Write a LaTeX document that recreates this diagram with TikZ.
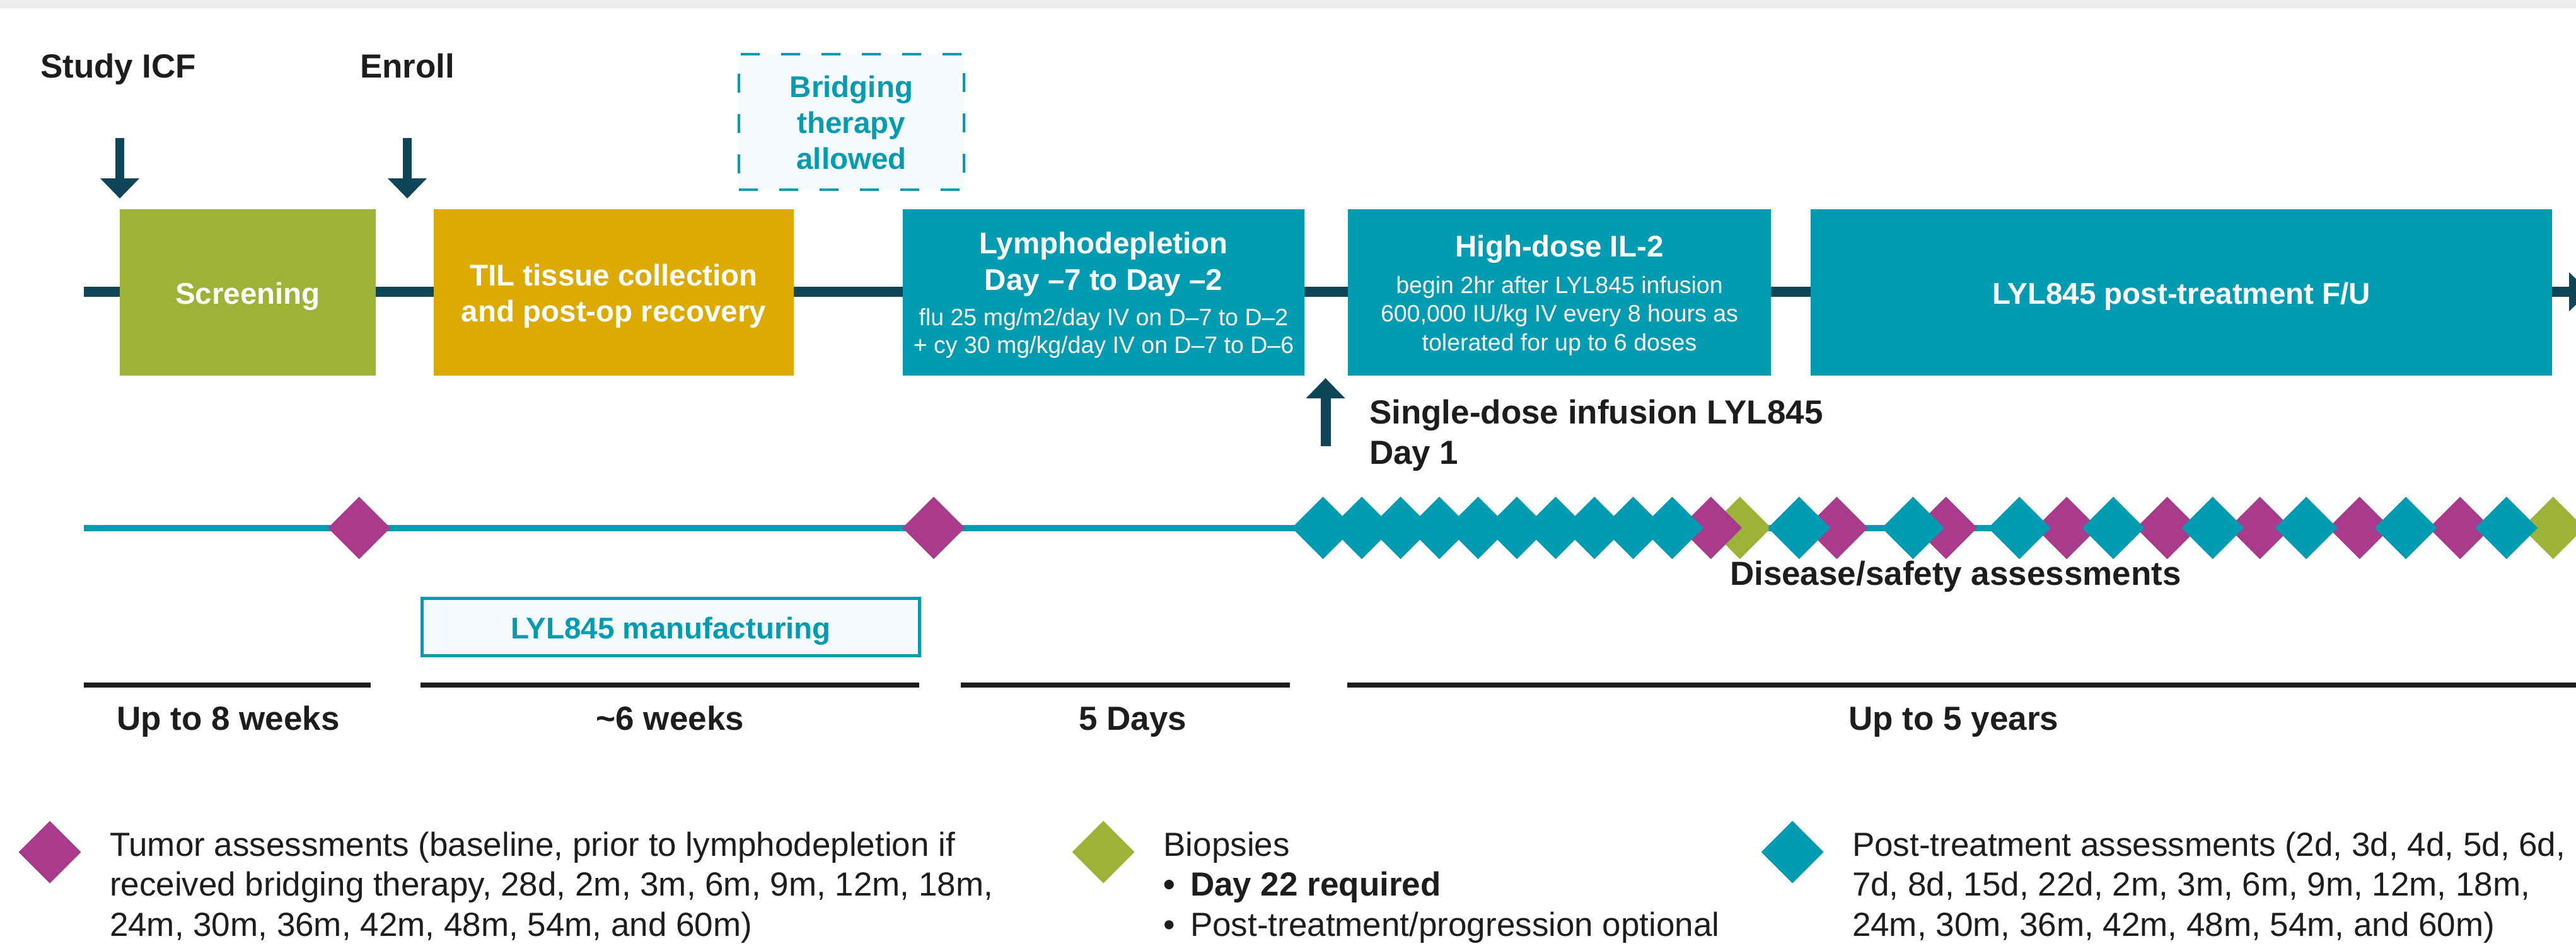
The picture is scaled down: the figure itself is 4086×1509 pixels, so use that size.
\documentclass[tikz,border=0pt]{standalone}
\usepackage{fontspec}
\setmainfont{Liberation Sans}
\usetikzlibrary{arrows.meta,shapes.geometric}
\definecolor{navy}{HTML}{0E4559}
\definecolor{tealc}{HTML}{019CB2}
\definecolor{magc}{HTML}{A93A8C}
\definecolor{grnc}{HTML}{9CB337}
\definecolor{goldc}{HTML}{DCAA00}
\definecolor{txt}{HTML}{1D1D1B}
\definecolor{pale}{HTML}{F5FAFC}
\definecolor{band}{HTML}{ECECEC}
\tikzset{
  lbl/.style={inner sep=0pt, outer sep=0pt, text=txt, font=\fontsize{53}{63.6}\selectfont\bfseries},
  leg/.style={inner sep=0pt, outer sep=0pt, text=txt, font=\fontsize{53}{63.6}\selectfont, anchor=base west},
  legb/.style={leg, font=\fontsize{53}{63.6}\selectfont\bfseries},
  ttl/.style={inner sep=0pt, outer sep=0pt, text=white, font=\fontsize{47.5}{57}\selectfont\bfseries, anchor=base},
  sml/.style={inner sep=0pt, outer sep=0pt, text=white, font=\fontsize{37.5}{45}\selectfont, anchor=base},
  tealtxt/.style={ttl, text=tealc},
  phase/.style={rectangle, inner sep=0pt, outer sep=0pt, draw=none, minimum height=263.4pt},
  dia/.style={diamond, inner sep=0pt, outer sep=0pt, minimum width=99pt, minimum height=99pt, draw=none},
  mdia/.style={dia, fill=magc},
  tdia/.style={dia, fill=tealc},
  gdia/.style={dia, fill=grnc},
  darrow/.style={draw=navy, line width=15pt, -{Triangle[length=32pt,width=60pt]}},
  durseg/.style={draw=txt, line width=8pt},
}
\begin{document}
\begin{tikzpicture}[x=1pt,y=-1pt]
\useasboundingbox (0,0) rectangle (4086,1509);
\clip (0,0) rectangle (4086,1509);
\fill[band] (0,0) rectangle (4086,13);

% main dark timeline
\coordinate (dl0) at (133,463);
\coordinate (dl1) at (4107,463);
\draw[navy, line width=15.5pt, -{Triangle[length=32pt,width=60pt]}] (dl0) -- (dl1);

% phase boxes
\node[phase, fill=grnc, minimum width=406pt] (scr) at (393,464) {};
\node[phase, fill=goldc, minimum width=571pt] (til) at (973.5,464) {};
\node[phase, fill=tealc, minimum width=637pt] (lym) at (1750.5,464) {};
\node[phase, fill=tealc, minimum width=671pt] (hd) at (2473.5,464) {};
\node[phase, fill=tealc, minimum width=1176pt] (pt) at (3460,464) {};

\node[ttl] (scrt) at (393,482) {Screening};
\node[ttl] (tilt1) at (973.5,453) {TIL tissue collection};
\node[ttl] (tilt2) at (973.5,510) {and post-op recovery};
\node[ttl] (lymt1) at (1750.5,402) {Lymphodepletion};
\node[ttl] (lymt2) at (1750.5,460) {Day –7 to Day –2};
\node[sml] (lyms1) at (1750.5,516) {flu 25 mg/m2/day IV on D–7 to D–2};
\node[sml] (lyms2) at (1750.5,560) {+ cy 30 mg/kg/day IV on D–7 to D–6};
\node[ttl] (hdt) at (2473.5,407) {High-dose IL-2};
\node[sml] (hds1) at (2473.5,465) {begin 2hr after LYL845 infusion};
\node[sml] (hds2) at (2473.5,510) {600,000 IU/kg IV every 8 hours as};
\node[sml] (hds3) at (2473.5,556) {tolerated for up to 6 doses};
\node[ttl] (ptt) at (3460,482) {LYL845 post-treatment F/U};

% bridging therapy box
\node[rectangle, draw=tealc, fill=pale, line width=4pt, dash pattern=on 30pt off 34pt, minimum width=357pt, minimum height=215pt, inner sep=0pt] (br) at (1350.5,193.5) {};
\node[tealtxt] (brt1) at (1350.5,154) {Bridging};
\node[tealtxt] (brt2) at (1350.5,211) {therapy};
\node[tealtxt] (brt3) at (1350.5,268) {allowed};

% top labels and arrows
\node[lbl, anchor=base west] (icf) at (64,124) {Study ICF};
\node[lbl, anchor=base west] (enr) at (571,124) {Enroll};
\coordinate (a1s) at (190,219);
\coordinate (a1e) at (190,315);
\coordinate (a2s) at (646,219);
\coordinate (a2e) at (646,315);
\draw[darrow, line width=14.5pt] (a1s) -- (a1e);
\draw[darrow, line width=14.5pt] (a2s) -- (a2e);

% infusion arrow
\coordinate (ups) at (2102.5,708);
\coordinate (upe) at (2102.5,600);
\draw[darrow, line width=16pt] (ups) -- (upe);
\node[lbl, anchor=base west] (inf1) at (2172,672.7) {Single-dose infusion LYL845};
\node[lbl, anchor=base west] (inf2) at (2172,736.7) {Day 1};

% assessment line
\coordinate (tl0) at (133,837.7);
\coordinate (tl1) at (4090,837.7);
\draw[tealc, line width=10pt] (tl0) -- (tl1);

% biopsy diamonds (bottom layer)
\node[gdia] (g1) at (2759.7,837.7) {};
\node[gdia] (g2) at (4049.7,837.7) {};
% tumor diamonds
\foreach \x [count=\i] in {569.6,1481,2713.7,2913.3,3086.7,3278,3437.5,3584.6,3742.7,3902}
  \node[mdia] (m\i) at (\x,837.7) {};
% post-treatment diamonds (top layer)
\foreach \x [count=\i] in {2098.5,2160,2221.5,2283,2344.5,2406,2467.5,2529,2590.5,2652.3,2853.7,3034.3,3203,3352,3509.7,3658,3816,3975.7}
  \node[tdia] (t\i) at (\x,837.7) {};

% manufacturing box
\node[rectangle, draw=tealc, fill=pale, line width=5pt, minimum width=789pt, minimum height=91pt, inner sep=0pt] (mf) at (1064,995.3) {};
\node[tealtxt] (mft) at (1064,1013.3) {LYL845 manufacturing};

\node[lbl, anchor=base] (dsa) at (3102,928) {Disease/safety assessments};

% duration segments
\coordinate (s1a) at (133,1087); \coordinate (s1b) at (588,1087);
\coordinate (s2a) at (667,1087); \coordinate (s2b) at (1458,1087);
\coordinate (s3a) at (1524,1087); \coordinate (s3b) at (2046,1087);
\coordinate (s4a) at (2137,1087); \coordinate (s4b) at (4090,1087);
\draw[durseg] (s1a) -- (s1b);
\draw[durseg] (s2a) -- (s2b);
\draw[durseg] (s3a) -- (s3b);
\draw[durseg] (s4a) -- (s4b);
\node[lbl, anchor=base] (d1) at (362,1158.3) {Up to 8 weeks};
\node[lbl, anchor=base] (d2) at (1063,1158.3) {\textasciitilde6 weeks};
\node[lbl, anchor=base] (d3) at (1797,1158.3) {5 Days};
\node[lbl, anchor=base] (d4) at (3099,1158.3) {Up to 5 years};

% legend
\node[mdia] (lm) at (79,1352) {};
\node[leg] (lm1) at (174,1358.3) {Tumor assessments (baseline, prior to lymphodepletion if};
\node[leg] (lm2) at (174,1421.7) {received bridging therapy, 28d, 2m, 3m, 6m, 9m, 12m, 18m,};
\node[leg] (lm3) at (174,1485) {24m, 30m, 36m, 42m, 48m, 54m, and 60m)};
\node[gdia] (lg) at (1750,1352) {};
\node[leg] (lg1) at (1845.5,1358.3) {Biopsies};
\node[legb] (lgb2) at (1845.5,1421.7) {•};
\node[legb] (lg2) at (1888,1421.7) {Day 22 required};
\node[leg] (lgb3) at (1845.5,1485) {•};
\node[leg] (lg3) at (1888,1485) {Post-treatment/progression optional};
\node[tdia] (lt) at (2843,1352) {};
\node[leg] (lt1) at (2938,1358.3) {Post-treatment assessments (2d, 3d, 4d, 5d, 6d,};
\node[leg] (lt2) at (2938,1421.7) {7d, 8d, 15d, 22d, 2m, 3m, 6m, 9m, 12m, 18m,};
\node[leg] (lt3) at (2938,1485) {24m, 30m, 36m, 42m, 48m, 54m, and 60m)};
\end{tikzpicture}
\end{document}
